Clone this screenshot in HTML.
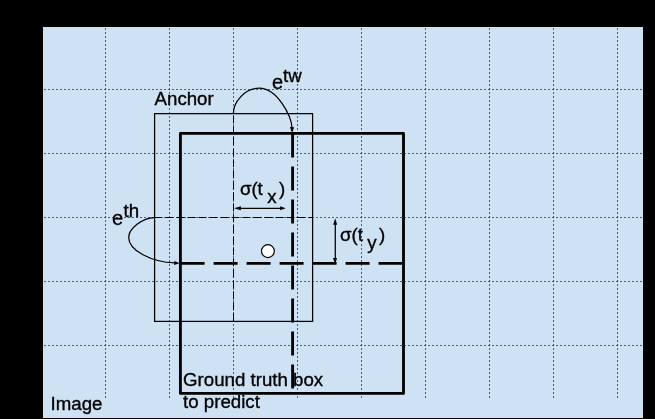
<!DOCTYPE html>
<html>
<head>
<meta charset="utf-8">
<title>Anchor box diagram</title>
<style>
  html, body { margin: 0; padding: 0; background: #000; }
  body { width: 655px; height: 419px; overflow: hidden; }
  svg { display: block; will-change: transform; transform: translateZ(0); }
  text { font-family: "Liberation Sans", sans-serif; font-size: 18.67px; fill: #000; stroke: #000; stroke-width: 0.35px; }
</style>
</head>
<body>
<svg width="655" height="419" viewBox="0 0 655 419">
  <rect x="0" y="0" width="655" height="419" fill="#000"/>
  <!-- image area -->
  <rect x="43" y="27" width="600" height="391" fill="#cfe2f3"/>

  <!-- dotted grid -->
  <g stroke="#000" stroke-opacity="0.58" stroke-width="1" stroke-dasharray="2 2" fill="none">
    <g stroke-dashoffset="-1">
      <line x1="105.5" y1="27" x2="105.5" y2="398"/>
      <line x1="169.5" y1="27" x2="169.5" y2="398"/>
      <line x1="233.5" y1="27" x2="233.5" y2="398"/>
      <line x1="297.5" y1="27" x2="297.5" y2="398"/>
      <line x1="361.5" y1="27" x2="361.5" y2="398"/>
      <line x1="425.5" y1="27" x2="425.5" y2="398"/>
      <line x1="489.5" y1="27" x2="489.5" y2="398"/>
      <line x1="553.5" y1="27" x2="553.5" y2="398"/>
      <line x1="617.5" y1="27" x2="617.5" y2="398"/>
    </g>
    <g stroke-dashoffset="-1">
      <line x1="43" y1="89.5" x2="643" y2="89.5"/>
      <line x1="43" y1="153.5" x2="643" y2="153.5"/>
      <line x1="43" y1="217.5" x2="643" y2="217.5"/>
      <line x1="43" y1="281.5" x2="643" y2="281.5"/>
      <line x1="43" y1="345.5" x2="643" y2="345.5"/>
    </g>
  </g>

  <!-- anchor box -->
  <rect x="154.6" y="113.65" width="158" height="207.75" fill="none" stroke="#000" stroke-width="1.25"/>
  <!-- anchor centre lines -->
  <g stroke="#000" stroke-width="1" stroke-dasharray="8 3" fill="none">
    <line x1="154.5" y1="217.5" x2="312.5" y2="217.5"/>
    <line x1="233.5" y1="321.3" x2="233.5" y2="113.5"/>
  </g>

  <!-- ground truth box -->
  <rect x="180.4" y="133.4" width="223.1" height="260" fill="none" stroke="#000" stroke-width="2.85" stroke-linejoin="round"/>
  <g stroke="#000" stroke-width="2.85" stroke-dasharray="24 9" fill="none">
    <line x1="292.6" y1="133.4" x2="292.6" y2="393.4"/>
    <line x1="180.6" y1="263.3" x2="403.5" y2="263.3"/>
  </g>

  <!-- centre circle -->
  <circle cx="267.9" cy="251.1" r="6.45" fill="#fff" stroke="#000" stroke-width="1.15"/>

  <!-- e^tw curve -->
  <path d="M233.4,113.2 C233.4,102.86 244.04,88.2 259.2,88.2 C277.24,88.2 291.5,116 292,128" fill="none" stroke="#000" stroke-width="1.25"/>
  <path d="M292.1,133 L289.9,127.1 L294.1,127.3 Z" fill="#000"/>

  <!-- e^th curve -->
  <path d="M154.5,217.6 C142.27,217.6 128.7,229.03 128.7,237.4 C128.7,250.43 151.4,262.2 175,262.95" fill="none" stroke="#000" stroke-width="1.25"/>
  <path d="M179.6,263.3 L174.5,260.9 L174.1,265 Z" fill="#000"/>

  <!-- sigma(tx) arrow -->
  <line x1="238" y1="208.3" x2="282" y2="208.3" stroke="#000" stroke-width="1.3"/>
  <path d="M233.9,208.3 L240.9,206.35 L240.9,210.25 Z" fill="#000"/>
  <path d="M285.6,208.3 L280.2,206.35 L280.2,210.25 Z" fill="#000"/>

  <!-- sigma(ty) arrow -->
  <line x1="335.3" y1="222" x2="335.3" y2="260" stroke="#000" stroke-width="1.25"/>
  <path d="M335.3,218.3 L333.1,224.7 L337.1,224.7 Z" fill="#000"/>
  <path d="M335.2,264.2 L333,258.1 L337,258.1 Z" fill="#000"/>

  <!-- labels -->
  <text x="50.6" y="410.2">Image</text>
  <text x="154.6" y="104.7">Anchor</text>
  <text x="272.1" y="89.3" style="font-size:20px">e</text>
  <text x="283.1" y="81.5">tw</text>
  <text x="112.1" y="225.4" style="font-size:20.2px">e</text>
  <text x="123.5" y="217.2">th</text>
  <text x="239.9" y="195">σ(t</text>
  <text x="267.2" y="203">x</text>
  <text x="279" y="195">)</text>
  <text x="340.05" y="240.9">σ(t</text>
  <text x="367.3" y="249.2">y</text>
  <text x="379.1" y="240.9">)</text>
  <text x="183.1" y="386.1">Ground truth box</text>
  <text x="183.1" y="407.9">to predict</text>
</svg>
</body>
</html>
